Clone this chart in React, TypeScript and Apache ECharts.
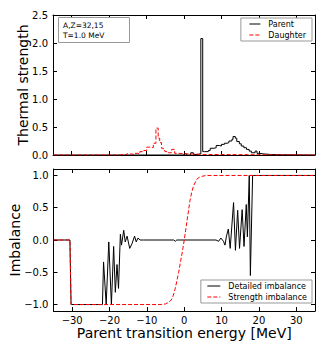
import React, { useEffect, useRef } from 'react';
import * as echarts from 'echarts';

const xTicks = [-30, -20, -10, 0, 10, 20, 30];
const strengthTicks = [0, 0.5, 1, 1.5, 2, 2.5];
const imbalanceTicks = [-1, -0.5, 0, 0.5, 1];

// Top panel: histogram bin left edges (MeV) and thermal strengths
const parentEnergy = [-35, 0, 0.7, 1.8, 2.5, 3.5, 4.5, 5.0, 5.5, 6.5, 7.0, 8.0, 8.6, 9.4, 10.0, 10.8, 11.5, 12.0, 12.8, 13.1, 13.7, 14.1, 14.8, 15.3, 16.0, 16.7, 17.4, 18.0, 19.0, 19.5, 20.3, 21.1, 23, 26, 35];
const parentStrength = [0, 0.02, 0, 0.04, 0.01, 0.02, 2.08, 0.06, 0.06, 0.08, 0.12, 0.13, 0.17, 0.16, 0.19, 0.21, 0.22, 0.25, 0.28, 0.33, 0.3, 0.24, 0.2, 0.16, 0.13, 0.1, 0.07, 0.04, 0.07, 0.03, 0.02, 0.01, 0.005, 0, 0];

const daughterEnergy = [-35, -17.1, -16.2, -15.3, -14.3, -13.2, -12.5, -11.8, -11.0, -10.0, -9.2, -8.2, -7.5, -6.9, -6.5, -6.0, -5.5, -5.1, -4.2, -3.3, -2.5, -1.5, 0.7, 5.1, 35];
const daughterStrength = [0, 0.01, 0.005, 0.02, 0.01, 0.03, 0.02, 0.06, 0.08, 0.14, 0.13, 0.21, 0.48, 0.3, 0.22, 0.12, 0.08, 0.06, 0.04, 0.1, 0.03, 0.02, 0.01, 0, 0];

// Bottom panel
const detailedEnergy = [-35, -30.6, -30.3, -21.9, -21.6, -20.9, -20.2, -19.5, -18.9, -18.45, -18.0, -17.6, -17.1, -16.8, -16.2, -15.8, -15.3, -14.6, -14.0, -13.3, -12.85, -12.4, -11.8, -10.9, -2.8, -2.4, -2.0, 8.5, 9.2, 9.8, 10.5, 10.9, 11.3, 11.8, 12.3, 13.2, 13.7, 14.3, 14.8, 15.5, 16.0, 16.6, 16.9, 17.4, 17.7, 18.3, 35];
const detailedImbalance = [0, 0, -1, -1, -0.34, -1, -0.03, -1, -0.1, -0.81, -0.38, -0.75, 0.09, -0.08, 0.15, -0.03, 0.06, -0.13, -0.06, 0.06, -0.03, 0.03, 0, 0, 0, -0.02, 0, 0, -0.02, 0.03, -0.02, -0.08, 0.06, 0.17, -0.13, 0.58, -0.16, 0.46, -0.13, 0.47, -0.1, 0.55, 0.05, 1.0, -0.55, 1.0, 1.0];

const strengthEnergy = [-35, -30.6, -30.3, -6, -5, -4, -3.5, -3, -2.5, -2, -1.5, -1, -0.5, 0, 0.5, 1, 1.5, 2, 2.5, 3, 3.5, 4, 5, 6, 35];
const strengthImbalance = [0, 0, -1, -1, -0.99, -0.96, -0.93, -0.87, -0.77, -0.64, -0.5, -0.34, -0.18, 0, 0.2, 0.4, 0.6, 0.74, 0.84, 0.9, 0.95, 0.97, 0.99, 1, 1];

const FONT = 'DejaVu Sans';
const fmt = (v: number, d: number) => (v < 0 ? '\u2212' : '') + Math.abs(v).toFixed(d);
const zip = (a: number[], b: number[]) => a.map((x, i) => [x, b[i]]);

const tickStyle = (vals: number[]) => ({ show: true, inside: true, length: 4, customValues: vals, lineStyle: { color: '#000', width: 1 } });
const lineAx = { show: true, onZero: false, lineStyle: { color: '#000', width: 1 } };

function xAxisDef(gridIndex: number, position: 'top' | 'bottom', labels: boolean, name?: string) {
  return {
    type: 'value', gridIndex, position, min: -35, max: 35,
    axisLine: lineAx, axisTick: tickStyle(xTicks), splitLine: { show: false },
    axisLabel: { show: labels, customValues: xTicks, formatter: (v: number) => fmt(v, 0), color: '#000', fontSize: 10, fontFamily: FONT, margin: 4 },
    name: name || '', nameLocation: 'middle', nameGap: 15, nameMoveOverlap: false,
    nameTextStyle: { color: '#000', fontSize: 14, fontFamily: FONT, lineHeight: 14 },
  };
}

function yAxisDef(gridIndex: number, position: 'left' | 'right', min: number, max: number, ticks: number[], labels: boolean, name: string, gap: number) {
  return {
    type: 'value', gridIndex, position, min, max,
    axisLine: lineAx, axisTick: tickStyle(ticks), splitLine: { show: false },
    axisLabel: { show: labels, customValues: ticks, formatter: (v: number) => fmt(v, 1), color: '#000', fontSize: 10, fontFamily: FONT, margin: 5 },
    name, nameLocation: 'middle', nameGap: gap, nameMoveOverlap: false,
    nameTextStyle: { color: '#000', fontSize: 14, fontFamily: FONT, lineHeight: 14 },
  };
}

const legendBase = {
  orient: 'vertical', backgroundColor: '#fff', borderColor: '#999', borderWidth: 1, borderRadius: 0,
  itemHeight: 8, itemGap: 3, itemStyle: { opacity: 0 }, lineStyle: { width: 1 },
  textStyle: { color: '#000', fontSize: 8, fontFamily: FONT, padding: [0, 0, 0, 3] },
};

export default function App() {
  const ref = useRef<HTMLDivElement>(null);
  useEffect(() => {
    if (!ref.current) return;
    const chart = echarts.init(ref.current, null, { renderer: 'svg' });
    chart.setOption({
      animation: false,
      backgroundColor: '#fff',
      textStyle: { fontFamily: FONT },
      grid: [
        { left: 53, top: 15, width: 262, height: 140 },
        { left: 53, top: 169, width: 262, height: 142 },
      ],
      xAxis: [
        xAxisDef(0, 'bottom', false),
        xAxisDef(0, 'top', false),
        xAxisDef(1, 'bottom', true, 'Parent transition energy [MeV]'),
        xAxisDef(1, 'top', false),
      ],
      yAxis: [
        yAxisDef(0, 'left', 0, 2.5, strengthTicks, true, 'Thermal strength', 23.5),
        yAxisDef(0, 'right', 0, 2.5, strengthTicks, false, '', 0),
        yAxisDef(1, 'left', -1.1, 1.1, imbalanceTicks, true, 'Imbalance', 31.5),
        yAxisDef(1, 'right', -1.1, 1.1, imbalanceTicks, false, '', 0),
      ],
      legend: [
        { ...legendBase, right: 13, top: 18, padding: [2, 6, 2, 8], itemWidth: 11, data: ['Parent', 'Daughter'] },
        { ...legendBase, right: 13, top: 280, padding: [2, 5, 2, 6], itemWidth: 13, data: ['Detailed imbalance', 'Strength imbalance'] },
      ],
      graphic: [
        { type: 'rect', shape: { x: 58.5, y: 17.5, width: 71, height: 25 }, style: { fill: '#fff', stroke: '#999', lineWidth: 1 }, z: 100 },
        { type: 'text', x: 63, y: 25, style: { text: 'A,Z=32,15', fill: '#000', fontSize: 7.5, fontFamily: FONT, verticalAlign: 'middle' }, z: 101 },
        { type: 'text', x: 63, y: 35, style: { text: 'T=1.0 MeV', fill: '#000', fontSize: 7.5, fontFamily: FONT, verticalAlign: 'middle' }, z: 101 },
      ],
      series: [
        { name: 'Parent', type: 'line', xAxisIndex: 0, yAxisIndex: 0, step: 'end', symbol: 'none', data: zip(parentEnergy, parentStrength), lineStyle: { color: '#000', width: 1 }, itemStyle: { color: '#000' } },
        { name: 'Daughter', type: 'line', xAxisIndex: 0, yAxisIndex: 0, step: 'end', symbol: 'none', data: zip(daughterEnergy, daughterStrength), lineStyle: { color: '#f00', width: 1, type: [4, 2] }, itemStyle: { color: '#f00' } },
        { name: 'Detailed imbalance', type: 'line', xAxisIndex: 2, yAxisIndex: 2, symbol: 'none', data: zip(detailedEnergy, detailedImbalance), lineStyle: { color: '#000', width: 1 }, itemStyle: { color: '#000' } },
        { name: 'Strength imbalance', type: 'line', xAxisIndex: 2, yAxisIndex: 2, symbol: 'none', data: zip(strengthEnergy, strengthImbalance), lineStyle: { color: '#f00', width: 1, type: [4, 2] }, itemStyle: { color: '#f00' } },
      ],
    });
    return () => chart.dispose();
  }, []);
  return <div ref={ref} style={{ position: 'fixed', left: 0, top: 0, width: 325, height: 350 }} />;
}
